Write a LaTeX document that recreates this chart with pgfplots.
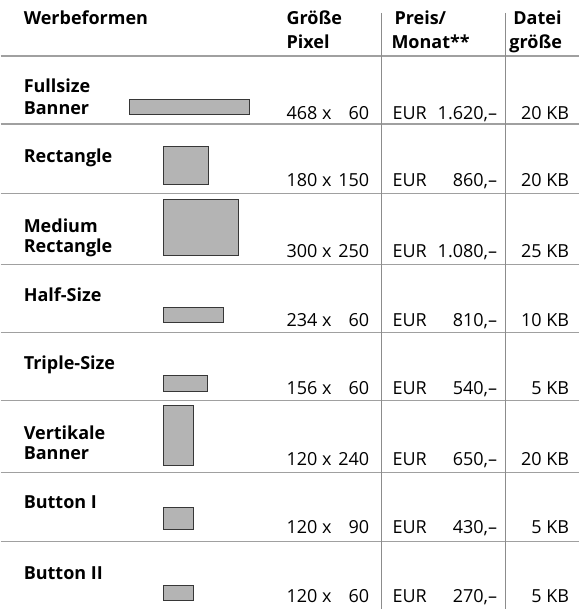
\documentclass[border=0pt]{standalone}
\usepackage{fontspec}
\setmainfont{Open Sans}
\usepackage{pgfplots}
\pgfplotsset{compat=1.18}
\definecolor{hl}{RGB}{160,160,160}
\definecolor{vl}{RGB}{140,140,140}
\definecolor{boxfill}{RGB}{180,180,180}
\definecolor{boxdraw}{RGB}{55,55,55}
\tikzset{
  hd/.style={font=\fontsize{18}{21}\selectfont\bfseries, anchor=base west, inner sep=0pt},
  lab/.style={font=\fontsize{18}{21}\selectfont\bfseries, anchor=base west, inner sep=0pt},
  numl/.style={font=\fontsize{18}{21}\selectfont, anchor=base west, inner sep=0pt},
  numr/.style={font=\fontsize{18}{21}\selectfont, anchor=base east, inner sep=0pt},
}
\newcommand{\row}[5]{%
  \node[numl] at (axis cs:286,#1) {#2 x};
  \node[numr] at (axis cs:369,#1) {#3};
  \node[numl] at (axis cs:392,#1) {EUR};
  \node[numr] at (axis cs:497,#1) {#4,–};
  \node[numr] at (axis cs:569,#1) {#5 KB};
}
\begin{document}
\begin{tikzpicture}
\begin{axis}[
  scale only axis, width=579pt, height=609pt,
  xmin=0, xmax=579, ymin=0, ymax=609, y dir=reverse,
  axis lines=none, ticks=none, clip=false,
]
% frame of the picture (invisible, fixes the bounding box)
\addplot[draw=none] coordinates {(0,0) (579,609)};
% grid lines
\addplot[hl, line width=1.2pt] coordinates {(0,56) (579,56)};
\addplot[hl, line width=1.2pt] coordinates {(0,124) (579,124)};
\addplot[hl, line width=1.2pt] coordinates {(0,194) (579,194)};
\addplot[hl, line width=1.2pt] coordinates {(0,265) (579,265)};
\addplot[hl, line width=1.2pt] coordinates {(0,333) (579,333)};
\addplot[hl, line width=1.2pt] coordinates {(0,401) (579,401)};
\addplot[hl, line width=1.2pt] coordinates {(0,473) (579,473)};
\addplot[hl, line width=1.2pt] coordinates {(0,542) (579,542)};
\addplot[vl, line width=0.9pt] coordinates {(381,13) (381,609)};
\addplot[vl, line width=0.9pt] coordinates {(505,13) (505,609)};
% size boxes (scaled ad formats)
\addplot[fill=boxfill, draw=boxdraw, line width=0.9pt] coordinates {(129,100) (249,100) (249,115) (129,115)} -- cycle;
\addplot[fill=boxfill, draw=boxdraw, line width=0.9pt] coordinates {(163,147) (208,147) (208,185) (163,185)} -- cycle;
\addplot[fill=boxfill, draw=boxdraw, line width=0.9pt] coordinates {(163,200) (238,200) (238,256) (163,256)} -- cycle;
\addplot[fill=boxfill, draw=boxdraw, line width=0.9pt] coordinates {(163,308) (223,308) (223,323) (163,323)} -- cycle;
\addplot[fill=boxfill, draw=boxdraw, line width=0.9pt] coordinates {(163,376) (207,376) (207,392) (163,392)} -- cycle;
\addplot[fill=boxfill, draw=boxdraw, line width=0.9pt] coordinates {(163,406) (193,406) (193,466) (163,466)} -- cycle;
\addplot[fill=boxfill, draw=boxdraw, line width=0.9pt] coordinates {(163,508) (193,508) (193,530) (163,530)} -- cycle;
\addplot[fill=boxfill, draw=boxdraw, line width=0.9pt] coordinates {(163,586) (193,586) (193,601) (163,601)} -- cycle;
% header
\node[hd] at (axis cs:23,25) {Werbeformen};
\node[hd] at (axis cs:286,25) {Größe};
\node[hd] at (axis cs:286,49) {Pixel};
\node[hd] at (axis cs:394,25) {Preis/};
\node[hd] at (axis cs:391,49) {Monat**};
\node[hd] at (axis cs:513,25) {Datei};
\node[hd] at (axis cs:509,49) {größe};
% row labels
\node[lab] at (axis cs:23,93) {Fullsize};
\node[lab] at (axis cs:23,115) {Banner};
\node[lab] at (axis cs:23,163) {Rectangle};
\node[lab] at (axis cs:23,233) {Medium};
\node[lab] at (axis cs:23,253) {Rectangle};
\node[lab] at (axis cs:23,302) {Half-Size};
\node[lab] at (axis cs:23,370) {Triple-Size};
\node[lab] at (axis cs:23,440) {Vertikale};
\node[lab] at (axis cs:23,460) {Banner};
\node[lab] at (axis cs:23,509) {Button I};
\node[lab] at (axis cs:23,580) {Button II};
% numbers
\row{120}{468}{60}{1.620}{20}
\row{187}{180}{150}{860}{20}
\row{258}{300}{250}{1.080}{25}
\row{327}{234}{60}{810}{10}
\row{395}{156}{60}{540}{5}
\row{466}{120}{240}{650}{20}
\row{534}{120}{90}{430}{5}
\row{603}{120}{60}{270}{5}
\end{axis}
\end{tikzpicture}
\end{document}
